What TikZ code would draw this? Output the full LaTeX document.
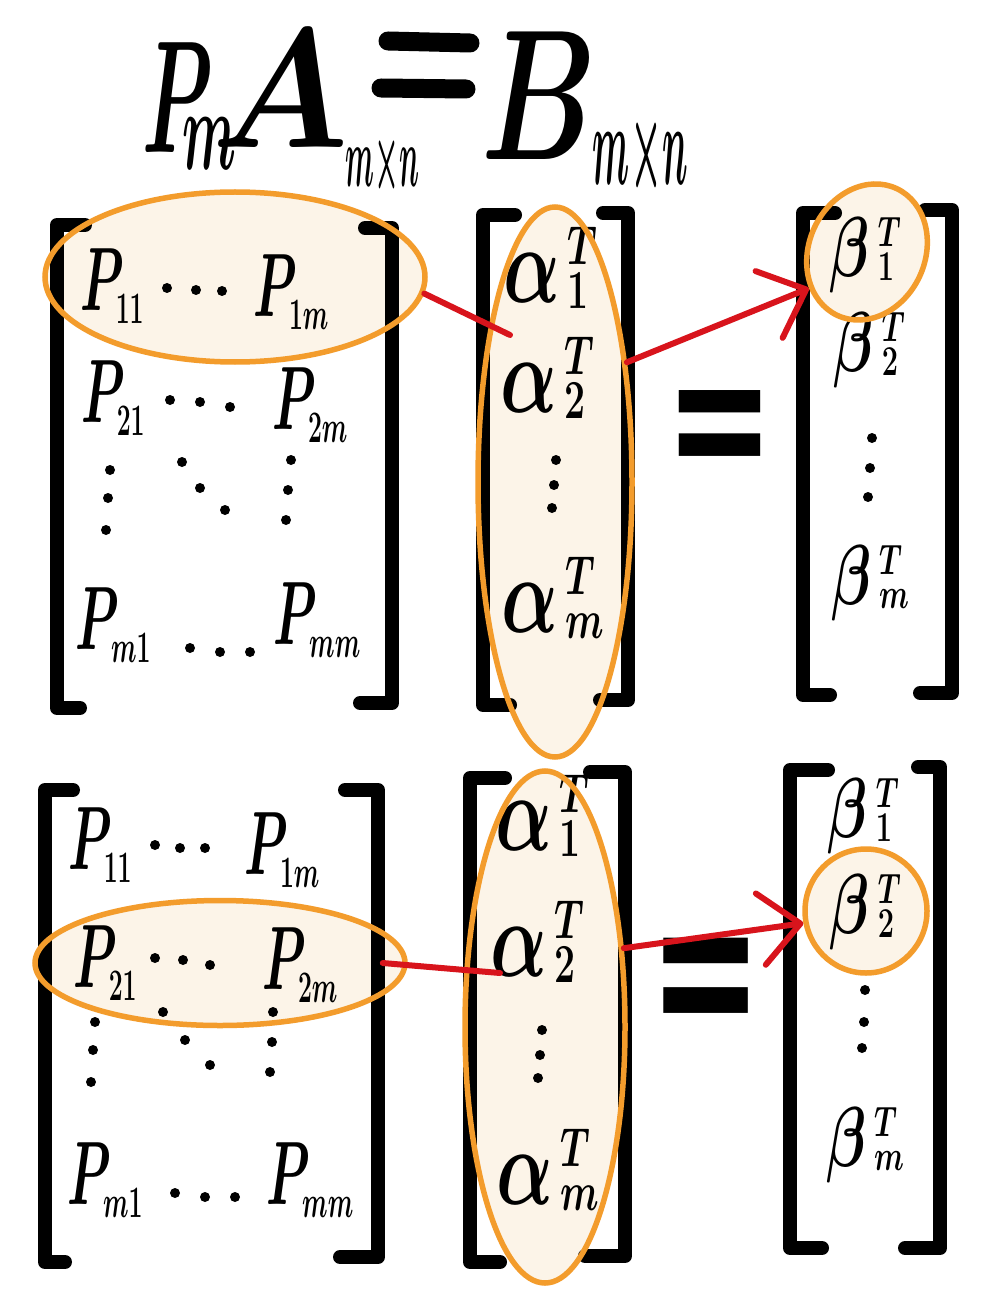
\RequirePackage{fix-cm}
\documentclass[tikz,border=0pt]{standalone}
\usepackage[no-math]{fontspec}
\usepackage{graphicx}
\usetikzlibrary{shapes.geometric,arrows.meta}
\newfontfamily\eqfont{DejaVu Sans}
\definecolor{hlo}{HTML}{F39C2C}
\definecolor{hlcream}{HTML}{FCF4E8}
\definecolor{redc}{HTML}{D8141C}
\newcommand\nar[1]{\scalebox{0.55}[1]{#1}}
\newcommand\gnar[1]{\scalebox{0.68}[1]{#1}}
\newcommand\pe[1]{$P_{\scriptscriptstyle #1}$}
\newcommand\rva[2]{$#1$\kern0.09em\rlap{\raisebox{0.34em}{$\scriptscriptstyle T$}}\raisebox{-0.06em}{$\scriptscriptstyle #2$}}
\newcommand\rvb[2]{$#1$\kern0.14em\rlap{\raisebox{0.36em}{$\scriptscriptstyle T$}}\raisebox{-0.04em}{$\scriptscriptstyle #2$}}
% title term: #1 size, #2 xscale, #3 letter, #4 kern, #5 drop, #6 sub size, #7 sub xscale, #8 sub
\newcommand\tterm[8]{{\fontsize{#1}{#1}\selectfont\scalebox{#2}[1]{$#3$}}\kern#4\raisebox{-#5}{\fontsize{#6}{#6}\selectfont\scalebox{#7}[1]{$#8$}}}
\begin{document}
\begin{tikzpicture}[x=1pt,y=-1pt,
  brk/.style={line width=14pt,line cap=round,line join=round},
  eqbar/.style={line width=19pt,line cap=round},
  hlf/.style={ellipse,fill=hlcream,draw=none,inner sep=0pt},
  hl/.style={ellipse,draw=hlo,line width=5.5pt,inner sep=0pt},
  ent/.style={inner sep=0pt,font=\fontsize{90}{100}\selectfont\boldmath},
  gk/.style={inner sep=0pt,font=\fontsize{110}{120}\selectfont\boldmath},
  bt/.style={inner sep=0pt,font=\fontsize{85}{95}\selectfont\boldmath},
  ttl/.style={inner sep=0pt,anchor=base west,font=\boldmath},
  redl/.style={draw=redc,line width=6pt,line cap=round},
  arr/.style={redl,-{Straight Barb[length=40pt,width=72pt,round]}},
  eqs/.style={inner sep=0pt,font=\eqfont\bfseries\fontsize{#1}{#1}\selectfont},
]
\fill[white] (0,0) rectangle (1000,1313);
\useasboundingbox (0,0) rectangle (1000,1313);

% ---------- title ----------
\node[ttl] (tPm) at (142,153) {\tterm{160}{0.5}{P}{-30pt}{17pt}{116}{0.45}{m}};
\node[ttl] (tAmn) at (211,148) {\tterm{170}{0.93}{A}{-3pt}{39pt}{86}{0.325}{m{\times}n}};
\coordinate (eqa) at (388,41);
\coordinate (eqb) at (470,43);
\coordinate (eqc) at (381,88);
\coordinate (eqd) at (466,89);
\draw[eqbar] (eqa) -- (eqb);
\draw[eqbar] (eqc) -- (eqd);
\node[ttl] (tBmn) at (481,160) {\tterm{186}{0.68}{B}{-4pt}{25pt}{116}{0.31}{m{\times}n}};

% ---------- highlight fills (top) ----------
\node[hlf,minimum width=380pt,minimum height=170pt] (r1f) at (235,277) {};
\node[hlf,minimum width=154pt,minimum height=550pt] (a1f) at (555,482) {};
\node[hlf,minimum width=116pt,minimum height=140pt,rotate=-25] (b1f) at (867,252) {};

% ---------- top brackets ----------
\draw[brk] (85,225) -- (57,225) -- (57,708) -- (80,708);
\draw[brk] (365,228) -- (392,228) -- (392,703) -- (360,703);
\draw[brk] (515,215) -- (483,215) -- (483,705) -- (510,705);
\draw[brk] (603,213) -- (628,213) -- (628,700) -- (600,700);
\draw[brk] (835,213) -- (803,213) -- (803,695) -- (830,695);
\draw[brk] (925,210) -- (952,210) -- (952,693) -- (920,693);

% ---------- top entries ----------
\node[ent] (p11) at (112,286) {\nar{\pe{11}}};
\node[ent] (p1m) at (291,292) {\nar{\pe{1m}}};
\node[ent] (p21) at (113,398) {\nar{\pe{21}}};
\node[ent] (p2m) at (310,405) {\nar{\pe{2m}}};
\node[ent] (pm1) at (113,625) {\nar{\pe{m1}}};
\node[ent] (pmm) at (317,620) {\nar{\pe{mm}}};
\foreach \p in {(167,288),(196,290),(222,291),(170,400),(200,402),(230,407),
  (110,470),(108,498),(106,530),(182,462),(200,488),(225,510),
  (291,460),(288,490),(286,520),(190,648),(220,652),(250,652)}
  \fill \p circle[radius=5pt];

\node[gk] (al1) at (546,268) {\gnar{\rva{\alpha}{1}}};
\node[gk] (al2) at (543,378) {\gnar{\rva{\alpha}{2}}};
\node[gk] (alm) at (553,598) {\gnar{\rva{\alpha}{m}}};
\foreach \p in {(556,460),(554,485),(552,508)} \fill \p circle[radius=5pt];

\node[bt] (be1) at (862,255) {\gnar{\rvb{\beta}{1}}};
\node[bt] (be2) at (866,350) {\gnar{\rvb{\beta}{2}}};
\node[bt] (bem) at (870,583) {\gnar{\rvb{\beta}{m}}};
\foreach \p in {(872,438),(870,468),(868,497)} \fill \p circle[radius=5pt];

\node[eqs=130] (eq1) at (720,438) {\scalebox{1}[1.5]{=}};

% ---------- top highlight strokes and connectors ----------
\node[hl,minimum width=380pt,minimum height=170pt] (r1) at (235,277) {};
\node[hl,minimum width=154pt,minimum height=550pt] (a1) at (555,482) {};
\node[hl,minimum width=116pt,minimum height=140pt,rotate=-25] (b1) at (867,252) {};
\coordinate (c1) at (510,335);
\draw[redl] (r1.-5) -- (c1);
\draw[arr] (a1.59) -- (b1.237);

% ---------- highlight fills (bottom) ----------
\node[hlf,minimum width=370pt,minimum height=125pt] (r2f) at (220,963) {};
\node[hlf,minimum width=160pt,minimum height=512pt] (a2f) at (545,1027) {};
\node[hlf,minimum width=122pt,minimum height=124pt] (b2f) at (866,911) {};

% ---------- bottom brackets ----------
\draw[brk] (73,790) -- (45,790) -- (45,1262) -- (65,1262);
\draw[brk] (345,790) -- (378,790) -- (378,1257) -- (340,1257);
\draw[brk] (505,778) -- (470,778) -- (470,1262) -- (500,1262);
\draw[brk] (590,772) -- (625,772) -- (625,1256) -- (585,1256);
\draw[brk] (828,770) -- (790,770) -- (790,1248) -- (822,1248);
\draw[brk] (918,767) -- (940,767) -- (940,1248) -- (905,1248);

% ---------- bottom entries ----------
\node[ent] (q11) at (100,845) {\nar{\pe{11}}};
\node[ent] (q1m) at (282,850) {\nar{\pe{1m}}};
\node[ent] (q21) at (105,963) {\nar{\pe{21}}};
\node[ent] (q2m) at (300,965) {\nar{\pe{2m}}};
\node[ent] (qm1) at (105,1180) {\nar{\pe{m1}}};
\node[ent] (qmm) at (310,1180) {\nar{\pe{mm}}};
\foreach \p in {(155,845),(180,848),(205,848),(155,958),(183,960),(210,965),
  (95,1022),(93,1050),(91,1082),(163,1012),(185,1040),(210,1065),
  (273,1012),(272,1042),(270,1072),(175,1193),(205,1197),(235,1197)}
  \fill \p circle[radius=5pt];

\node[gk] (bl1) at (538,816) {\gnar{\rva{\alpha}{1}}};
\node[gk] (bl2) at (533,942) {\gnar{\rva{\alpha}{2}}};
\node[gk] (blm) at (548,1170) {\gnar{\rva{\alpha}{m}}};
\foreach \p in {(542,1030),(540,1055),(538,1078)} \fill \p circle[radius=5pt];

\node[bt] (ce1) at (860,816) {\gnar{\rvb{\beta}{1}}};
\node[bt] (ce2) at (862,912) {\gnar{\rvb{\beta}{2}}};
\node[bt] (cem) at (865,1145) {\gnar{\rvb{\beta}{m}}};
\foreach \p in {(865,990),(864,1022),(862,1048)} \fill \p circle[radius=5pt];

\node[eqs=135] (eq2) at (706,992) {\scalebox{1}[1.65]{=}};

% ---------- bottom highlight strokes and connectors ----------
\node[hl,minimum width=370pt,minimum height=125pt] (r2) at (220,963) {};
\node[hl,minimum width=160pt,minimum height=512pt] (a2) at (545,1027) {};
\node[hl,minimum width=122pt,minimum height=124pt] (b2) at (866,911) {};
\coordinate (c2) at (500,973);
\draw[redl] ([xshift=-25pt]r2.east) -- (c2);
\draw[arr] (a2.45) -- (b2.191);
\end{tikzpicture}
\end{document}
